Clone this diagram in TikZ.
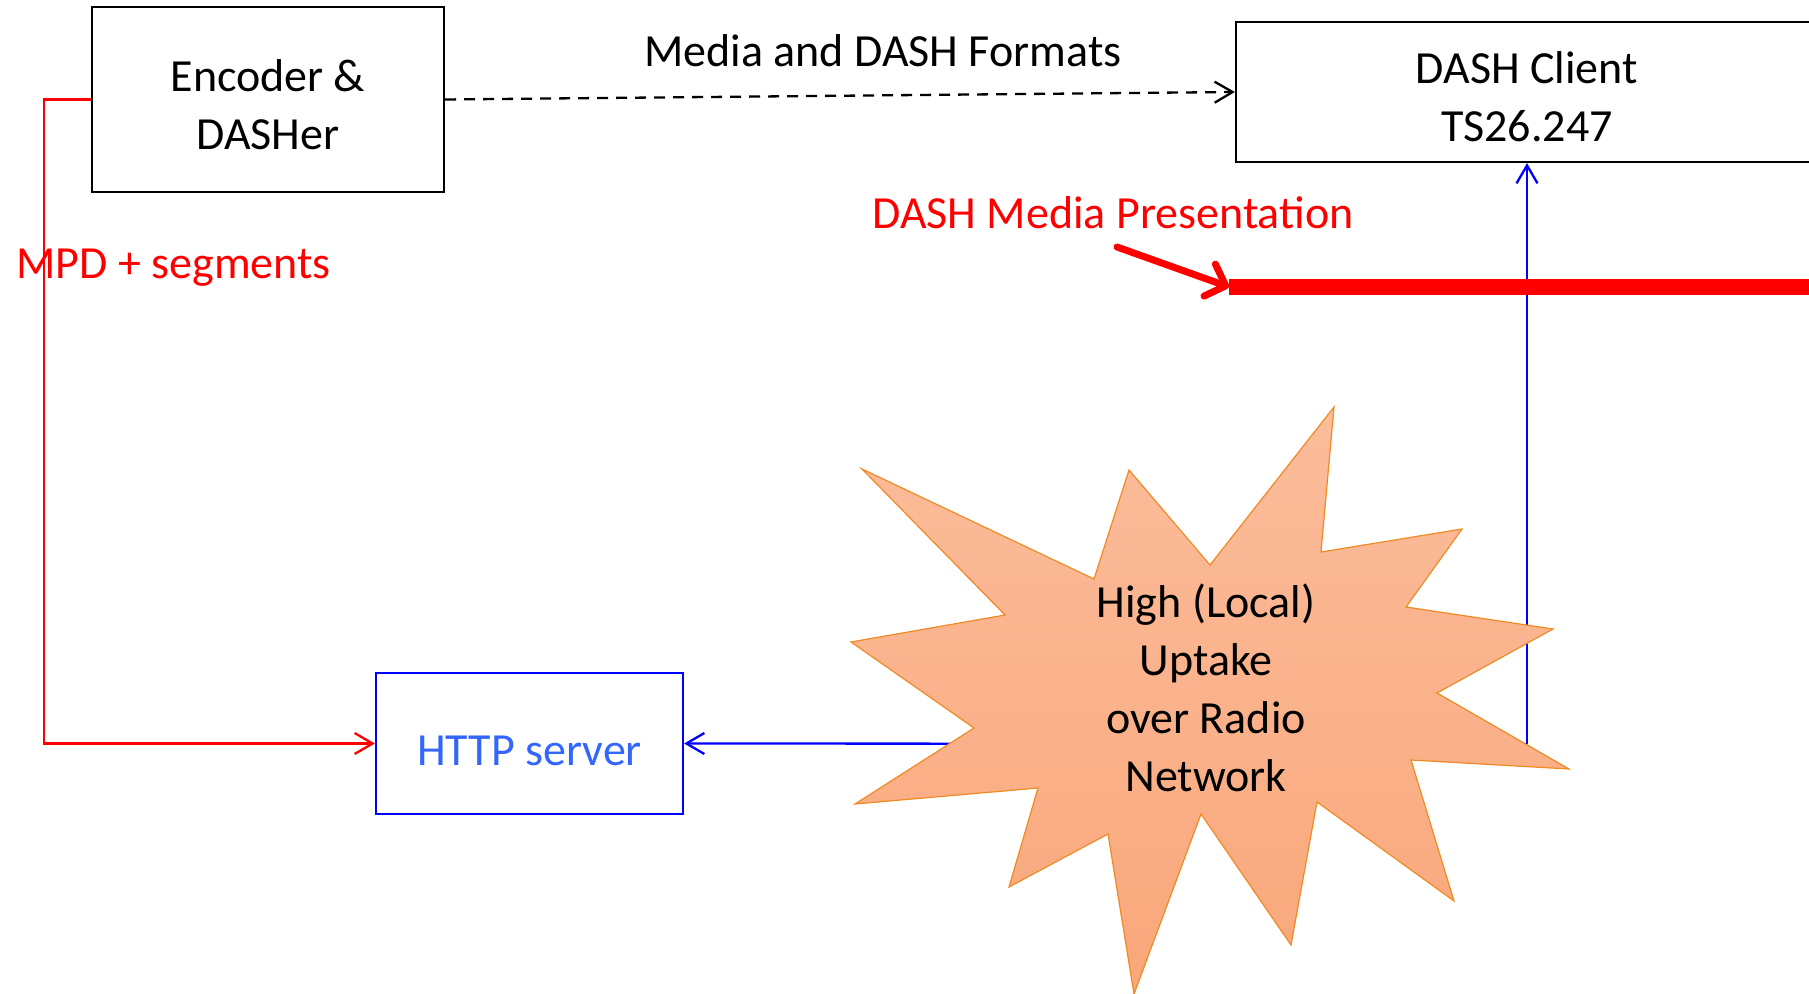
\documentclass[tikz,border=0pt]{standalone}
\usepackage{fontspec}
\setmainfont{Carlito}
\usetikzlibrary{arrows.meta}
\definecolor{linkred}{HTML}{FF0000}
\definecolor{linkblue}{HTML}{0000FF}
\definecolor{httptext}{HTML}{3366FF}
\definecolor{starline}{HTML}{F08A24}
\definecolor{startop}{HTML}{FBBD9C}
\definecolor{starbot}{HTML}{F9A77A}
\newcommand\diafs{\fontsize{23pt}{29pt}\selectfont}
\newcommand\firststrut{\rule{0pt}{21pt}}
\begin{document}
\begin{tikzpicture}[x=0.5pt,y=-0.5pt,
  txt/.style={font=\diafs, inner sep=0pt},
  box/.style={draw=black, line width=1.1pt, align=center, font=\diafs, inner sep=0pt},
  opentip/.style={-{Straight Barb[length=9pt,width=10.5pt]}},
  conn/.style={line width=1.15pt, opentip}]
\useasboundingbox (0,0) rectangle (1809,994);
% boxes
\node[box, minimum width=176pt, minimum height=92.5pt] (enc) at (268,99.5) {\firststrut Encoder \&\\DASHer};
\node[box, minimum width=291pt, minimum height=70pt] (client) at (1527,92) {\firststrut DASH Client\\TS26.247};
\node[box, draw=linkblue, text=httptext, minimum width=153.5pt, minimum height=70.5pt,
      text height=21.5pt, text depth=0pt] (http) at (529.5,743.5) {HTTP server};
% connectors
\coordinate (rc) at (44,99.5);
\draw[conn, linkred] (enc.west) -- (rc) |- (http.west);
\draw[conn, black, dash pattern=on 5.5pt off 4pt] (enc.east) -- (client.west);
\coordinate (j) at (1527,744);
\draw[conn, linkblue] (j) -- (http.east);
\draw[conn, linkblue] (j) -- (client.south);
% starburst
\path[draw=starline, line width=0.6pt, top color=startop, bottom color=starbot]
  (1334,407) -- (1321,552) -- (1462,529) -- (1406,607) -- (1553,629) -- (1437,693)
  -- (1569,769) -- (1411,760) -- (1454,901) -- (1317,802) -- (1291,945) -- (1201,814)
  -- (1134,994) -- (1108,834) -- (1009,887) -- (1038,788) -- (855,804) -- (974,728)
  -- (851,642) -- (1005,615) -- (862,469) -- (1094,579) -- (1129,470) -- (1210,565) -- cycle;
\node[txt, align=center] (net) at (1206,687.5) {High (Local)\\Uptake\\over Radio\\Network};
% media presentation bar and pointer
\coordinate (b1) at (1229,287);
\coordinate (b2) at (1830,287);
\coordinate (a0) at (1117,247);
\draw[linkred, line width=8pt] (b1) -- (b2);
\draw[linkred, line width=3.5pt, line cap=round, -{Straight Barb[length=8.5pt,width=17pt,round]}] (a0) -- (b1);
% labels
\node[txt, anchor=base west] (lblfmt) at (644,66.5) {Media and DASH Formats};
\node[txt, text=linkred, anchor=base west] (lblmpd) at (16,278.5) {MPD + segments};
\node[txt, text=linkred, anchor=base east] (lbldmp) at (1354,228.5) {DASH Media Presentation};
\end{tikzpicture}
\end{document}
